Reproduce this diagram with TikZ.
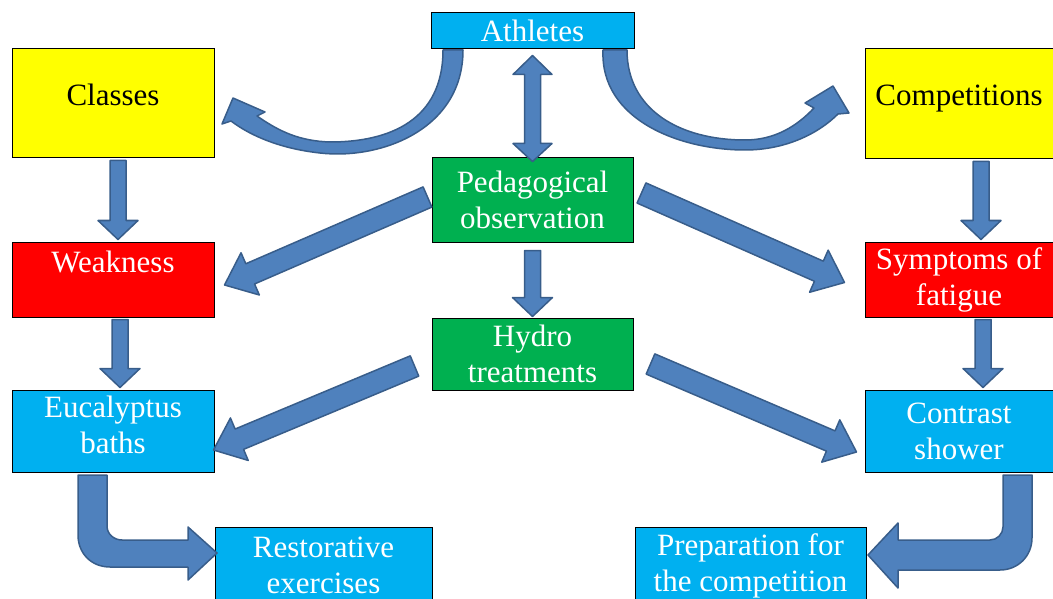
\documentclass[tikz,border=0pt]{standalone}
\usepackage{fontspec}
\setmainfont{Liberation Serif}
\usetikzlibrary{calc}

\definecolor{boxcyan}{RGB}{0,176,240}
\definecolor{boxgreen}{RGB}{0,176,80}
\definecolor{boxyellow}{RGB}{255,255,0}
\definecolor{boxred}{RGB}{255,0,0}
\definecolor{arrfill}{RGB}{79,129,189}
\definecolor{arrline}{RGB}{56,93,138}

\tikzset{
  box/.style={draw=black, line width=1pt, inner sep=0pt, align=center,
    font=\fontsize{31}{36}\selectfont},
  cyanbox/.style={box, fill=boxcyan, text=white},
  greenbox/.style={box, fill=boxgreen, text=white},
  yellowbox/.style={box, fill=boxyellow, text=black, text height=21pt, text depth=17pt},
  redbox/.style={box, fill=boxred, text=white},
  blockarrow/.style={fill=arrfill, draw=arrline, line width=1.5pt, line join=round},
}

% straight block arrow: from, to, half shaft, half head, head length
\newcommand{\blockarr}[5]{%
  \path ($(#2)!#5!(#1)$) coordinate (hb);
  \draw[blockarrow] ($(#1)!#3!90:(#2)$) -- ($(hb)!#3!90:(#2)$) -- ($(hb)!#4!90:(#2)$)
    -- (#2) -- ($(hb)!#4!-90:(#2)$) -- ($(hb)!#3!-90:(#2)$) -- ($(#1)!#3!-90:(#2)$) -- cycle;}

\begin{document}
\begin{tikzpicture}[x=1pt,y=-1pt]
\useasboundingbox (0,0) rectangle (1053,599);

%Shape: Rectangles
\node[cyanbox, minimum width=203pt, minimum height=36pt] (ath) at (532.5,31) {Athletes};
\node[yellowbox, minimum width=202pt, minimum height=109pt] (cls) at (113,103.5) {Classes};
\node[yellowbox, minimum width=188pt, minimum height=110pt] (comp) at (959,104) {Competitions};
\node[greenbox, minimum width=201pt, minimum height=84pt] (ped) at (532.5,200) {Pedagogical\\observation};
\node[redbox, minimum width=202pt, minimum height=75pt, text height=21pt, text depth=36pt] (weak) at (113,279.5) {Weakness};
\node[redbox, minimum width=188pt, minimum height=75pt] (symp) at (959,279.5) {Symptoms of\\fatigue};
\node[greenbox, minimum width=201pt, minimum height=72pt] (hyd) at (532.5,354) {Hydro\\treatments};
\node[cyanbox, minimum width=202pt, minimum height=82pt, text depth=12pt] (euc) at (113,431) {Eucalyptus\\baths};
\node[cyanbox, minimum width=188pt, minimum height=82pt] (con) at (959,431) {Contrast\\shower};
\node[cyanbox, minimum width=217pt, minimum height=77pt] (rest) at (323.5,565.5) {Restorative\\exercises};
\node[cyanbox, minimum width=231pt, minimum height=77pt] (prep) at (750.5,565.5) {Preparation for\\the competition};

%Straight block arrows
\blockarr{$(cls.south)+(5,2)$}{$(weak.north)+(5,-2)$}{8pt}{20pt}{19pt}
\blockarr{$(weak.south)+(7,2)$}{$(euc.north)+(7,-2)$}{8pt}{20pt}{19pt}
\blockarr{$(comp.south)+(22,2)$}{$(symp.north)+(22,-2)$}{8pt}{20pt}{19pt}
\blockarr{$(symp.south)+(24,2)$}{$(con.north)+(24,-2)$}{8pt}{20pt}{19pt}
\blockarr{$(ped.south)+(0,8)$}{$(hyd.north)+(0,-1)$}{8pt}{20pt}{19pt}
\blockarr{$(ped.west)+(-4,-3)$}{$(weak.east)+(10,5.5)$}{11pt}{23pt}{28pt}
\blockarr{$(ped.east)+(8,-7)$}{$(symp.west)+(-20,3)$}{11pt}{23pt}{28pt}
\blockarr{$(hyd.west)+(-17,12)$}{$(euc.east)+(-1,19)$}{11pt}{23pt}{28pt}
\blockarr{$(hyd.east)+(17,10)$}{$(con.west)+(-8,21)$}{11pt}{23pt}{28pt}

%Double arrow
\coordinate (dt) at ($(ath.south)+(0,6)$);
\coordinate (db) at ($(ped.north)+(0,4)$);
\draw[blockarrow] (dt) -- ($(dt)+(19.5,19)$) -- ($(dt)+(8,19)$) -- ($(db)+(8,-18)$) -- ($(db)+(19.5,-18)$)
  -- (db) -- ($(db)+(-19.5,-18)$) -- ($(db)+(-8,-18)$) -- ($(dt)+(-8,19)$) -- ($(dt)+(-19.5,19)$) -- cycle;

%Curved arrows
\draw[blockarrow] (463,50) .. controls (463,130) and (380,160) .. (320,153)
  .. controls (283,149) and (252,137) .. (231,121) -- (222,124) -- (233,98) -- (265,112) -- (257,116)
  .. controls (280,132) and (300,141) .. (330,142) .. controls (390,142) and (443,120) .. (443,50) -- cycle;
\draw[blockarrow] (603,50) .. controls (600,120) and (680,150) .. (745,150)
  .. controls (785,150) and (818,134) .. (838,114) -- (849,113) -- (833,86) -- (805,103) -- (814,108)
  .. controls (797,126) and (775,140) .. (745,140) .. controls (680,140) and (627,110) .. (627,50) -- cycle;

%Bent arrows
\draw[blockarrow] (78,475) -- (78,535) .. controls (78,553) and (91,567) .. (110,567) -- (188,567)
  -- (188,580) -- (217,553) -- (188,527) -- (188,540) -- (122,540)
  .. controls (114,540) and (107,534) .. (107,526) -- (107,475) -- cycle;
\draw[blockarrow] (1032,475) -- (1032,538) .. controls (1032,556) and (1018,570) .. (1000,570) -- (898,570)
  -- (898,588) -- (868,555) -- (898,523) -- (898,540) -- (990,540)
  .. controls (997,540) and (1003,534) .. (1003,527) -- (1003,475) -- cycle;

\end{tikzpicture}
\end{document}
